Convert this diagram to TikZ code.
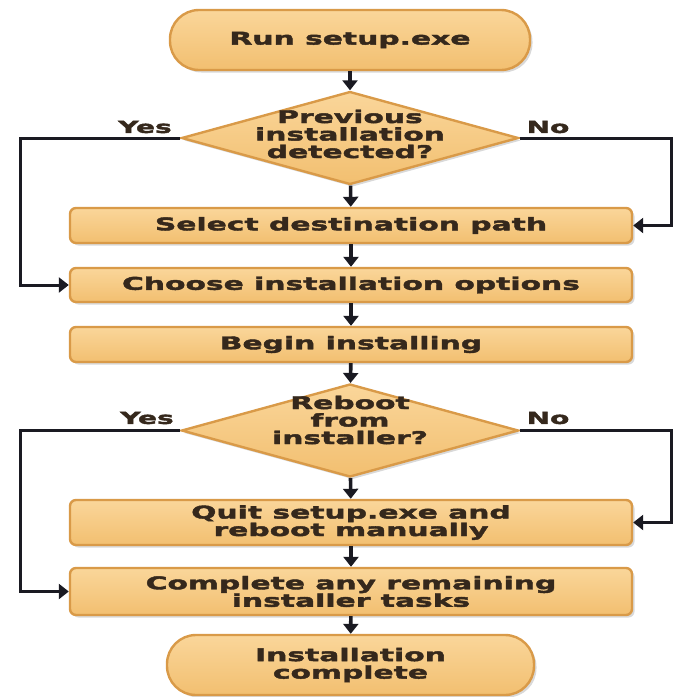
\documentclass[tikz,border=0pt]{standalone}
\usepackage{fontspec}
\newfontfamily\lblfont[FakeStretch=1.7,FakeBold=2.4]{DejaVu Sans Bold}
\usetikzlibrary{shapes.geometric,arrows.meta,shadows}
\definecolor{boxtop}{HTML}{FAD69A}
\definecolor{boxbot}{HTML}{F2BF70}
\definecolor{boxline}{HTML}{D99A48}
\definecolor{txtc}{HTML}{35281C}
\definecolor{arrc}{HTML}{1A1A22}
\tikzset{
  x=1pt,y=-1pt,
  flowbox/.style={draw=boxline,line width=2.4pt,top color=boxtop,bottom color=boxbot,
    rounded corners=6pt,minimum width=562pt,inner sep=0pt,
    drop shadow={shadow xshift=2.5pt,shadow yshift=-2.5pt,opacity=0.3,fill=gray}},
  stadium/.style={draw=boxline,line width=2.4pt,top color=boxtop,bottom color=boxbot,
    rounded corners=29pt,inner sep=0pt,
    drop shadow={shadow xshift=2.5pt,shadow yshift=-2.5pt,opacity=0.3,fill=gray}},
  decision/.style={diamond,draw=boxline,line width=2.4pt,top color=boxtop,bottom color=boxbot,
    inner sep=0pt,minimum width=337pt,minimum height=93pt,
    drop shadow={shadow xshift=2.5pt,shadow yshift=-2.5pt,opacity=0.3,fill=gray}},
  txt/.style={font=\lblfont\fontsize{17.5}{17.5}\selectfont,text=txtc,align=center,inner sep=0pt},
  lbl/.style={font=\lblfont\fontsize{16.5}{16}\selectfont,text=txtc,inner sep=0pt},
  arr/.style={draw=arrc,line width=3.6pt,-{Triangle[width=15pt,length=10pt]}},
}
\begin{document}
\begin{tikzpicture}
\useasboundingbox (0,0) rectangle (674,697);
% nodes
\node[stadium,minimum width=360pt,minimum height=60pt] (start) at (350,40) {};
\node[txt] (starttxt) at (start) {Run setup.exe};
\node[decision] (d1) at (350,138) {};
\node[txt] (d1txt) at (350,134) {Previous\\installation\\detected?};
\node[flowbox,minimum height=35pt] (select) at (351,225.5) {};
\node[txt] (selecttxt) at (select) {Select destination path};
\node[flowbox,minimum height=34pt] (choose) at (351,285) {};
\node[txt] (choosetxt) at (choose) {Choose installation options};
\node[flowbox,minimum height=35pt] (begin) at (351,344.5) {};
\node[txt] (begintxt) at (begin) {Begin installing};
\node[decision] (d2) at (350,430.5) {};
\node[txt] (d2txt) at (350,420) {Reboot\\from\\installer?};
\node[flowbox,minimum height=45pt] (quit) at (351,522.5) {};
\node[txt] (quittxt) at (quit) {Quit setup.exe and\\reboot manually};
\node[flowbox,minimum height=47pt] (complete) at (351,591.5) {};
\node[txt] (completetxt) at (complete) {Complete any remaining\\installer tasks};
\node[stadium,minimum width=367pt,minimum height=60pt] (endn) at (350.5,665) {};
\node[txt] (endtxt) at (endn) {Installation\\complete};
% labels
\node[lbl] (yes1) at (145,127) {Yes};
\node[lbl] (no1) at (548,127) {No};
\node[lbl] (yes2) at (147,418) {Yes};
\node[lbl] (no2) at (548,418) {No};
% coordinates for branches
\coordinate (l1a) at (20,138);
\coordinate (l1b) at (20,285);
\coordinate (r1a) at (671,138);
\coordinate (r1b) at (671,225.5);
\coordinate (l2a) at (20,430.5);
\coordinate (l2b) at (20,591.5);
\coordinate (r2a) at (671,430.5);
\coordinate (r2b) at (671,522.5);
% connectors
\draw[arr] (start) -- (d1);
\draw[arr] (d1) -- (select);
\draw[arr] (select) -- (choose);
\draw[arr] (choose) -- (begin);
\draw[arr] (begin) -- (d2);
\draw[arr] (d2) -- (quit);
\draw[arr] (quit) -- (complete);
\draw[arr] (complete) -- (endn);
\draw[arr,line width=3pt] (d1.west) -- (l1a) -- (l1b) -- (choose.west);
\draw[arr,line width=3pt] (d1.east) -- (r1a) -- (r1b) -- (select.east);
\draw[arr,line width=3pt] (d2.west) -- (l2a) -- (l2b) -- (complete.west);
\draw[arr,line width=3pt] (d2.east) -- (r2a) -- (r2b) -- (quit.east);
\end{tikzpicture}
\end{document}
